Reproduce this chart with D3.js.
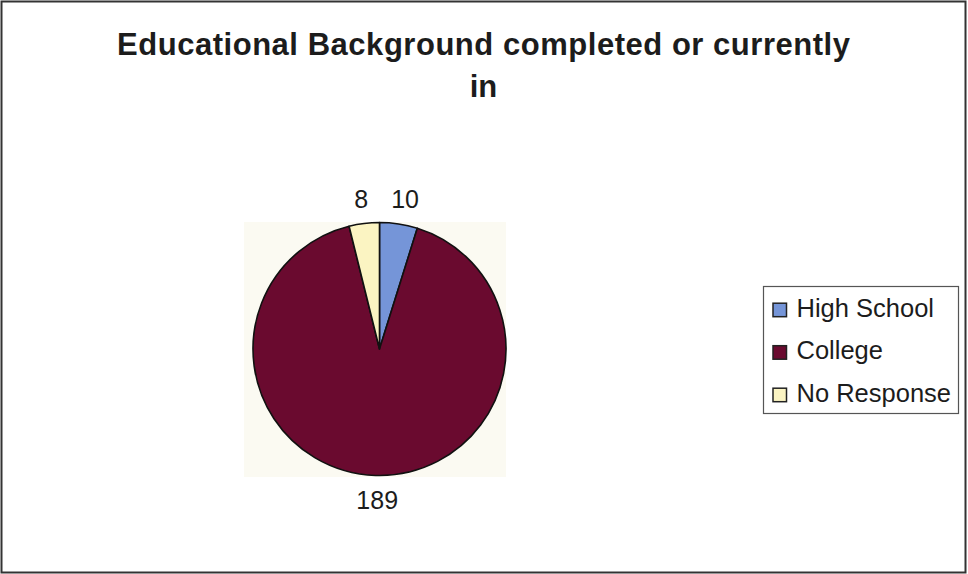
<!DOCTYPE html>
<html>
<head>
<meta charset="utf-8">
<script src="https://cdn.jsdelivr.net/npm/d3@7/dist/d3.min.js"></script>
<style>
  html, body { margin: 0; padding: 0; background: #fff; }
  svg { display: block; }
</style>
</head>
<body>
<svg id="chart" width="968" height="574"></svg>
<script>
// Survey responses by education level
const categories = ["High School", "College", "No Response"];
const counts = [10, 189, 8];
const colors = ["#7595d8", "#6a0a2f", "#fbf4c2"];
const titleLines = ["Educational Background completed or currently", "in"];

const W = 968, H = 574;
const svg = d3.select("#chart");
const font = "'Liberation Sans', Arial, sans-serif";
const ink = "#1c1c1c";

// outer frame
svg.append("rect")
  .attr("x", 1.5).attr("y", 1.5)
  .attr("width", W - 4).attr("height", H - 3)
  .attr("fill", "#fff").attr("stroke", "#333").attr("stroke-width", 2);

// title (two lines)
const title = svg.append("g");
title.append("text")
  .attr("x", 483.5).attr("y", 54.5)
  .attr("text-anchor", "middle")
  .attr("font-family", font).attr("font-weight", "bold")
  .attr("font-size", 31).attr("fill", ink)
  .attr("textLength", 733).attr("lengthAdjust", "spacing")
  .text(titleLines[0]);
title.append("text")
  .attr("x", 483.5).attr("y", 97)
  .attr("text-anchor", "middle")
  .attr("font-family", font).attr("font-weight", "bold")
  .attr("font-size", 31).attr("fill", ink)
  .text(titleLines[1]);

// plot area
const cx = 379.5, cy = 349, r = 126.5;
svg.append("rect")
  .attr("x", 244).attr("y", 222)
  .attr("width", 262).attr("height", 255)
  .attr("fill", "#fbfaf2");

const pie = d3.pie().sort(null).value(d => d)(counts);
const arc = d3.arc().innerRadius(0).outerRadius(r);

const g = svg.append("g").attr("transform", `translate(${cx},${cy})`);
g.selectAll("path")
  .data(pie)
  .join("path")
  .attr("d", arc)
  .attr("fill", (d, i) => colors[i])
  .attr("stroke", "#111")
  .attr("stroke-width", 1.6)
  .attr("stroke-linejoin", "round");

// value labels: the edge of each label nearest the pie sits a fixed gap outside it
const labelR = r + 16, capH = 18;
const labelNudge = [4, 2, -1];
const mid = d => (d.startAngle + d.endAngle) / 2;
g.selectAll("text.val")
  .data(pie)
  .join("text")
  .attr("class", "val")
  .attr("x", (d, i) => labelR * Math.sin(mid(d)) + labelNudge[i])
  .attr("y", d => -labelR * Math.cos(mid(d)) + capH * (1 - Math.cos(mid(d))) / 2)
  .attr("text-anchor", "middle")
  .attr("font-family", font)
  .attr("font-size", 25)
  .attr("fill", ink)
  .text(d => d.data);

// legend
const lg = svg.append("g");
lg.append("rect")
  .attr("x", 763.5).attr("y", 286.5)
  .attr("width", 195).attr("height", 127)
  .attr("fill", "#fff").attr("stroke", "#555").attr("stroke-width", 1.2);

const ly = d3.scalePoint().domain(categories).range([316.7, 401.7]);
const items = lg.selectAll("g.item")
  .data(categories)
  .join("g")
  .attr("class", "item")
  .attr("transform", d => `translate(773,${ly(d)})`);
items.append("rect")
  .attr("x", 0).attr("y", -13.5)
  .attr("width", 13.5).attr("height", 13.5)
  .attr("fill", (d, i) => colors[i])
  .attr("stroke", "#222").attr("stroke-width", 1.5);
items.append("text")
  .attr("x", 23.5).attr("y", 0)
  .attr("font-family", font)
  .attr("font-size", 25.5)
  .attr("fill", ink)
  .text(d => d);
</script>
</body>
</html>
